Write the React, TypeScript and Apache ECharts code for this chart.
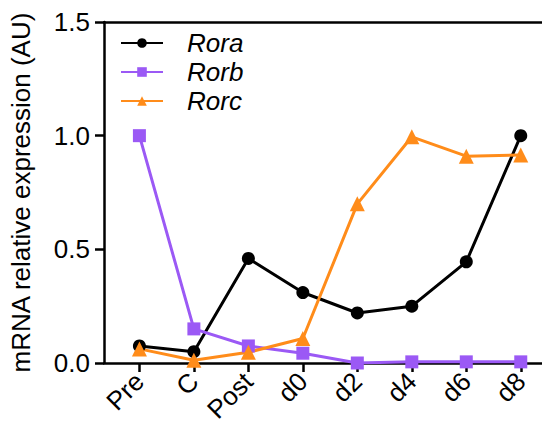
import React, { useEffect, useRef } from "react";
import * as echarts from "echarts";

const categories = ["Pre", "C", "Post", "d0", "d2", "d4", "d6", "d8"];
const rora = [0.075, 0.05, 0.46, 0.31, 0.22, 0.25, 0.445, 1.0];
const rorb = [1.0, 0.15, 0.075, 0.043, 0.0, 0.005, 0.005, 0.005];
const rorc = [0.062, 0.012, 0.047, 0.108, 0.7, 0.995, 0.91, 0.915];

const FONT = "Liberation Sans";

export default function App() {
  const ref = useRef<HTMLDivElement>(null);
  useEffect(() => {
    if (!ref.current) return;
    const chart = echarts.init(ref.current, undefined, { renderer: "svg" });
    const idx = categories.map((_, i) => i);
    const mk = (name: string, vals: number[], color: string, symbol: string, size: number) => ({
      name,
      type: "line",
      data: vals.map((v, i) => [i, v]),
      symbol,
      symbolSize: size,
      lineStyle: { color, width: 3 },
      itemStyle: { color },
      emphasis: { disabled: true },
    });
    chart.setOption({
      animation: false,
      textStyle: { fontFamily: FONT },
      grid: { left: 104, right: 2, top: 22, bottom: 71, containLabel: false },
      legend: {
        orient: "vertical",
        left: 120,
        top: 30,
        padding: 0,
        itemWidth: 42,
        itemHeight: 12,
        itemGap: 3,
        textStyle: { fontSize: 26, fontStyle: "italic", color: "#000", fontFamily: FONT, padding: [0, 0, 0, 19] },
        data: ["Rora", "Rorb", "Rorc"],
      },
      xAxis: [
        {
          type: "value",
          min: -0.65,
          max: 7.5,
          splitLine: { show: false },
          axisLine: { onZero: false, lineStyle: { color: "#000", width: 2.5 } },
          axisTick: { customValues: idx, length: 9, lineStyle: { color: "#000", width: 2.5 } },
          axisLabel: {
            customValues: idx,
            formatter: (v: number) => categories[Math.round(v)],
            rotate: 45,
            fontSize: 26,
            color: "#000",
            fontFamily: FONT,
            margin: 14,
          },
        },
        {
          type: "value",
          position: "top",
          min: -0.65,
          max: 7.5,
          splitLine: { show: false },
          axisLine: { show: true, onZero: false, lineStyle: { color: "#000", width: 2.5 } },
          axisTick: { show: false },
          axisLabel: { show: false },
        },
      ],
      yAxis: {
        type: "value",
        min: 0,
        max: 1.5,
        interval: 0.5,
        name: "mRNA relative expression (AU)",
        nameLocation: "middle",
        nameGap: 70,
        nameTextStyle: { fontSize: 26, color: "#000", fontFamily: FONT },
        splitLine: { show: false },
        axisLine: { show: true, onZero: false, lineStyle: { color: "#000", width: 2.5 } },
        axisTick: { show: true, length: 9, lineStyle: { color: "#000", width: 2.5 } },
        axisLabel: {
          formatter: (v: number) => v.toFixed(1),
          fontSize: 26,
          color: "#000",
          fontFamily: FONT,
          margin: 14,
        },
      },
      series: [
        mk("Rora", rora, "#000000", "circle", 13),
        mk("Rorb", rorb, "#9B59F5", "rect", 13),
        mk("Rorc", rorc, "#FF8C1A", "triangle", 15),
      ],
    });
    return () => chart.dispose();
  }, []);
  return <div ref={ref} style={{ width: 550, height: 434, margin: -8 }} />;
}
